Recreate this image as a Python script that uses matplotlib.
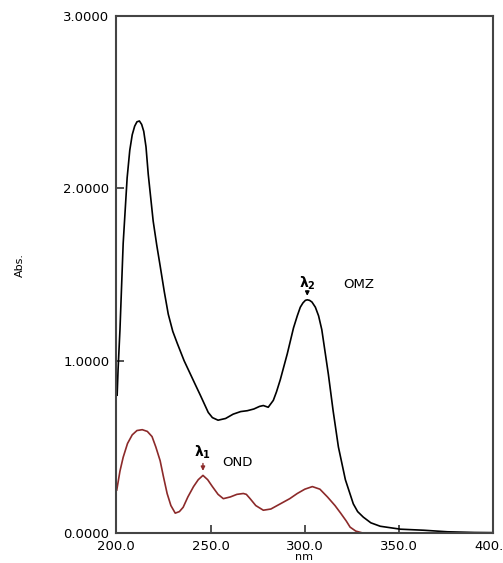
import matplotlib
matplotlib.use("Agg")
import matplotlib.pyplot as plt

plt.rcParams['font.family'] = ['DejaVu Sans']

# OMZ spectrum (black)
omz_nm = [200.5, 201, 202, 203.7, 205.8, 207.2, 208.5, 209.8, 211, 212.3, 213.5, 214.6,
          215.8, 217, 219.6, 221.5, 223.3, 225.5, 227.6, 230, 232.4, 236, 239, 242,
          244.6, 248.8, 251, 254, 258, 262, 266, 269.5, 273, 276, 278, 280.6, 283.3,
          285, 287, 290.7, 294, 296, 297.6, 299, 300.3, 301.3, 302.5, 303.8, 305.6,
          307.3, 309, 312.5, 315, 317.8, 321.5, 325.7, 328, 331, 335, 340, 350.7, 363,
          375.6, 390, 400]
omz_abs = [0.80, 0.95, 1.18, 1.68, 2.06, 2.22, 2.31, 2.36, 2.385, 2.39, 2.37, 2.33,
           2.24, 2.08, 1.81, 1.67, 1.55, 1.40, 1.27, 1.17, 1.10, 1.00, 0.93, 0.86,
           0.80, 0.70, 0.67, 0.655, 0.665, 0.69, 0.705, 0.71, 0.72, 0.735, 0.74, 0.73,
           0.77, 0.82, 0.89, 1.04, 1.19, 1.26, 1.31, 1.335, 1.35, 1.353, 1.35, 1.34,
           1.31, 1.26, 1.18, 0.92, 0.71, 0.50, 0.31, 0.17, 0.125, 0.093, 0.06, 0.04,
           0.023, 0.017, 0.008, 0.004, 0.003]

# OND spectrum (dark red)
ond_nm = [200.3, 202, 203.7, 206, 208.5, 211, 213.8, 216.5, 219, 221, 223.3, 225,
          227, 229, 231.3, 233.5, 235.5, 238, 241, 243.5, 246, 248.5, 251, 254,
          256.8, 260.5, 264, 267.4, 269, 271, 274, 278, 282, 287, 292, 296, 300,
          304, 308, 312, 316, 319, 322, 324, 327, 331]
ond_abs = [0.25, 0.36, 0.44, 0.52, 0.57, 0.595, 0.60, 0.59, 0.56, 0.50, 0.42, 0.33,
           0.23, 0.16, 0.116, 0.125, 0.15, 0.21, 0.27, 0.31, 0.335, 0.31, 0.27, 0.225,
           0.20, 0.21, 0.225, 0.23, 0.225, 0.20, 0.16, 0.133, 0.14, 0.17, 0.20, 0.23,
           0.255, 0.27, 0.255, 0.21, 0.16, 0.116, 0.07, 0.035, 0.012, 0.0]

x_ticks = [200, 250, 300, 350, 400]
x_labels = ['200.0', '250.0', '300.0', '350.0', '400.0']
y_ticks = [0, 1, 2, 3]
y_labels = ['0.0000', '1.0000', '2.0000', '3.0000']

red = '#8c2a2a'

fig = plt.figure(figsize=(5.03, 5.63), dpi=100)
ax = fig.add_axes([0.231, 0.053, 0.750, 0.919])

ax.plot(omz_nm, omz_abs, color='black', lw=1.2)
ax.plot(ond_nm, ond_abs, color=red, lw=1.2)

ax.set_xlim(200, 400)
ax.set_ylim(0, 3)
ax.set_xticks(x_ticks)
ax.set_xticklabels(x_labels)
ax.set_yticks(y_ticks)
ax.set_yticklabels(y_labels)
ax.tick_params(direction='in', length=6, width=1.2, labelsize=9.5, color='#333333')
ax.tick_params(axis='x', pad=5)
ax.tick_params(axis='y', pad=5)
for s in ax.spines.values():
    s.set_linewidth(1.5)
    s.set_color('#444444')

fig.text(0.605, 0.002, 'nm', fontsize=8, ha='center', va='bottom')
fig.text(0.04, 0.53, 'Abs.', rotation=90, fontsize=8, va='center', ha='center')

# peak markers
ax.annotate('', xy=(301.3, 1.36), xytext=(301.3, 1.42),
            arrowprops=dict(arrowstyle='-|>', color='black', lw=1, mutation_scale=6))
ax.text(301.3, 1.45, r'$\mathregular{\lambda_2}$', ha='center', va='center',
        fontsize=10, fontweight='bold')
ax.text(320.5, 1.44, 'OMZ', ha='left', va='center', fontsize=9.5)

ax.annotate('', xy=(246, 0.345), xytext=(246, 0.42),
            arrowprops=dict(arrowstyle='-|>', color=red, lw=1, mutation_scale=6))
ax.text(246, 0.47, r'$\mathregular{\lambda_1}$', ha='center', va='center',
        fontsize=10, fontweight='bold')
ax.text(256, 0.41, 'OND', ha='left', va='center', fontsize=9.5)

fig.savefig('out.png', dpi=100)
